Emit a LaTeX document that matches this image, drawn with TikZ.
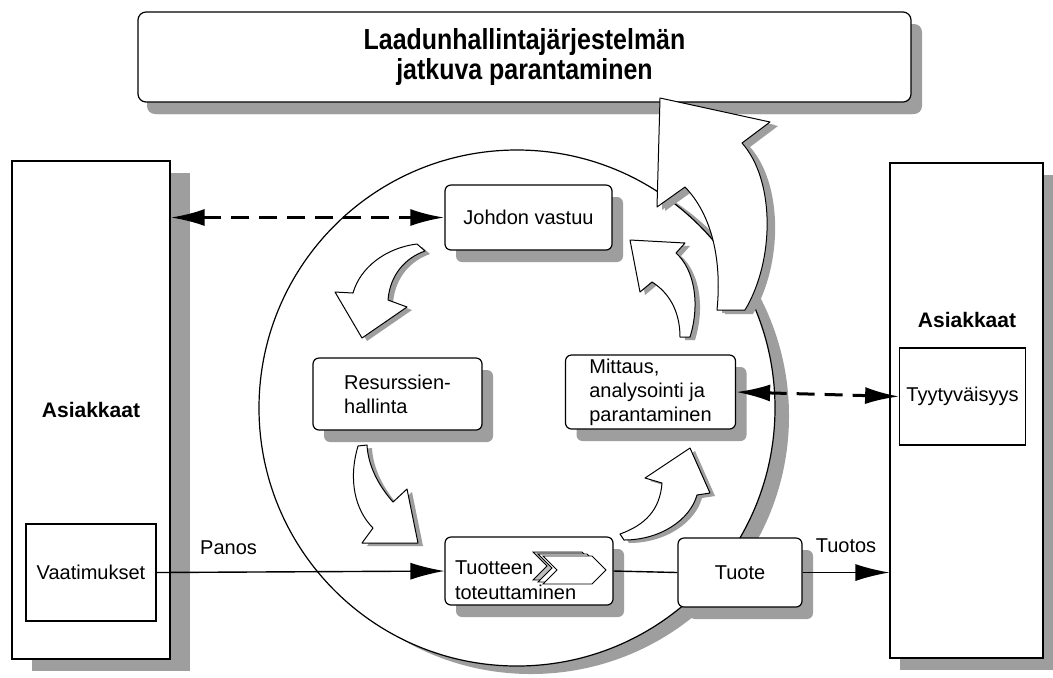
\documentclass[tikz,border=0pt]{standalone}
\usepackage{fontspec}
\setmainfont{Liberation Sans}
\newfontfamily\otsikkofont[FakeStretch=0.86]{Liberation Sans}
\usepackage{tikz}
\usetikzlibrary{arrows.meta, calc, positioning, shadows}

\begin{document}
\begin{tikzpicture}[x=0.5pt, y=-0.5pt,
		varjo/.style={drop shadow={shadow xshift=#1, shadow yshift=-6pt, fill=black!38, opacity=1}},
		laatikko/.style={draw, fill=white, rounded corners=3pt, line width=0.6pt, varjo=5.5pt},
		iso/.style={draw, fill=white, line width=0.6pt, font=\bfseries\fontsize{10.5}{12}\selectfont},
		sisa/.style={draw, fill=white, line width=0.6pt},
		kaari/.style={draw, fill=white, line width=0.5pt, line join=round,
			drop shadow={shadow xshift=2.5pt, shadow yshift=-1.5pt, fill=black!38, opacity=1}},
		katko/.style={line width=1.5pt, dash pattern=on 9pt off 5pt,
			{Latex[length=17pt,width=8.5pt]}-{Latex[length=17pt,width=8.5pt]}},
		nuoli/.style={line width=0.7pt, -{Latex[length=17pt,width=8.5pt]}},
		font=\fontsize{10}{12}\selectfont
		]
		\useasboundingbox (0,0) rectangle (1053,677);
		
		% Le titre
		\node[laatikko, rounded corners=4pt, varjo=4.5pt, minimum width=386.5pt, minimum height=45pt, align=center,
			font=\otsikkofont\bfseries\fontsize{14.5}{15}\selectfont] (otsikko) at (524.5,57)
			{Laadunhallintajärjestelmän\\jatkuva parantaminen};
		
		% Les asiakkaat
		\node[iso, varjo=10pt, minimum width=79pt, minimum height=249pt] (asiakL) at (91,410) {Asiakkaat};
		\node[sisa, minimum width=65pt, minimum height=48.5pt] (vaatimukset) at (91,572.5) {Vaatimukset};
		\node[iso, varjo=5pt, minimum width=76.5pt, minimum height=247.5pt] (asiakR) at (966.5,410.5) {};
		\node[font=\bfseries\fontsize{10.5}{12}\selectfont] (asiakRt) at (967,320) {Asiakkaat};
		\node[sisa, minimum width=62.5pt, minimum height=48.5pt] (tyyty) at (962.5,396.5) {Tyytyväisyys};
		
		% Le cercle et les processus
		\node[circle, draw, fill=white, line width=0.6pt, minimum size=258pt, inner sep=0pt,
			drop shadow={shadow xshift=7pt, shadow yshift=-4pt, fill=black!38, opacity=1}] (ympyra) at (517,408) {};
		\node[laatikko, minimum width=83.5pt, minimum height=32.5pt] (johdon) at (528.5,217.5) {Johdon vastuu};
		\node[laatikko, minimum width=84.5pt, minimum height=36pt, align=left] (resurssit) at (397.5,394)
			{Resurssien-\\hallinta};
		\node[laatikko, minimum width=85pt, minimum height=37pt, inner ysep=1.5pt, align=left] (mittaus) at (650.5,392)
			{Mittaus,\\analysointi ja\\parantaminen};
		\node[laatikko, minimum width=84pt, minimum height=34pt, text width=74pt, align=left,
			text height=15.5pt, text depth=12.5pt, inner ysep=0pt,
			font=\fontsize{10}{12.5}\selectfont] (tuotteen) at (529,571) {Tuotteen\\toteuttaminen};
		\node[laatikko, minimum width=62pt, minimum height=34.5pt] (tuote) at (740,572.5) {Tuote};
		
		% Les chevrons
		\foreach \dx/\dy/\vari in {-10/-4/black!25, -5/-2/white, 0/0/white}
			\draw[fill=\vari, line width=0.4pt, shift={(\dx,\dy)}]
				(543,556) -- (592,556) -- (606,570) -- (592,584) -- (543,584) -- (557,570) -- cycle;
		
		% Les flèches courbes
		\draw[kaari] (417,244) .. controls (385,248) and (360,268) .. (353,293) -- (335,292) -- (362,338)
			-- (407,307) -- (388,300) .. controls (390,275) and (405,258) .. (425,251) -- cycle;
		\draw[kaari] (358,446) .. controls (348,480) and (355,510) .. (373,528) -- (362,543) -- (418,543)
			-- (407,489) -- (393,502) .. controls (378,485) and (368,465) .. (367,445) -- cycle;
		\draw[kaari] (624,540) .. controls (660,540) and (690,520) .. (697,495) -- (710,493) -- (690,448)
			-- (645,478) -- (662,483) .. controls (660,510) and (645,525) .. (620,534) -- cycle;
		\draw[kaari] (680,337) .. controls (680,310) and (668,292) .. (652,282) -- (640,292) -- (630,240)
			-- (685,243) -- (676,253) .. controls (695,270) and (700,305) .. (690,337) -- cycle;
		\draw[kaari, drop shadow={shadow xshift=4pt, shadow yshift=-2pt, fill=black!38, opacity=1}]
			(717,310) .. controls (722,260) and (712,215) .. (685,187) -- (657,207) -- (660,98)
			-- (770,122) -- (742,143) .. controls (775,180) and (775,260) .. (745,310) -- cycle;
		
		% Les liaisons
		\draw[katko] (asiakL.east |- johdon.west) -- (johdon.west);
		\draw[katko] (mittaus.east) -- (tyyty.west);
		\draw[nuoli] (vaatimukset.east) -- node[pos=0.25, above=5pt] {Panos} (tuotteen.west);
		\draw[line width=0.7pt] (tuotteen.east) -- (tuote.west);
		\draw[nuoli] (tuote.east) -- node[midway, above=6pt] {Tuotos} (asiakR.west |- tuote.east);
	\end{tikzpicture}
\end{document}
